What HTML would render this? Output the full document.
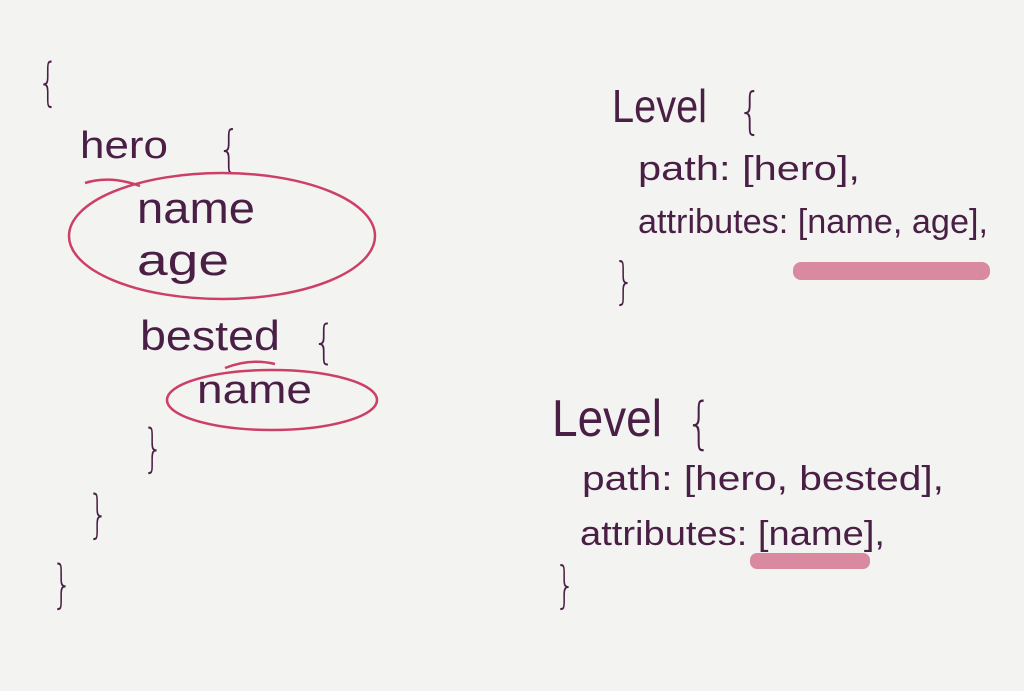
<!DOCTYPE html>
<html><head><meta charset="utf-8"><style>
html,body{margin:0;padding:0;background:#f3f3f1;}
svg{display:block}
text{font-family:"Liberation Sans","DejaVu Sans",sans-serif;fill:#4a1f45;}
.b{font-family:"DejaVu Sans",sans-serif;font-weight:300}
</style></head><body>
<svg width="1024" height="691" viewBox="0 0 1024 691" xmlns="http://www.w3.org/2000/svg">
<rect width="1024" height="691" fill="#f3f3f1"/>
<!-- left side -->
<text class="b" x="38" y="100" font-size="52" textLength="20" lengthAdjust="spacingAndGlyphs">{</text>
<text x="80" y="158" font-size="38" textLength="88" lengthAdjust="spacingAndGlyphs">hero</text>
<text class="b" x="218" y="166" font-size="50" textLength="22" lengthAdjust="spacingAndGlyphs">{</text>
<text x="137" y="223" font-size="44" textLength="118" lengthAdjust="spacingAndGlyphs">name</text>
<text x="137" y="275" font-size="44" textLength="92" lengthAdjust="spacingAndGlyphs">age</text>
<ellipse cx="222" cy="236" rx="153" ry="63" fill="none" stroke="#cc3f66" stroke-width="2.5"/>
<path d="M85 183 Q110 175 140 186" fill="none" stroke="#cc3f66" stroke-width="2.5"/>
<text x="140" y="350" font-size="42" textLength="140" lengthAdjust="spacingAndGlyphs">bested</text>
<text class="b" x="313" y="358" font-size="46" textLength="22" lengthAdjust="spacingAndGlyphs">{</text>
<text x="197" y="403" font-size="40" textLength="115" lengthAdjust="spacingAndGlyphs">name</text>
<ellipse cx="272" cy="400" rx="105" ry="30" fill="none" stroke="#cc3f66" stroke-width="2.5"/>
<path d="M225 368 Q250 358 275 364" fill="none" stroke="#cc3f66" stroke-width="2.5"/>
<text class="b" x="143" y="466" font-size="52" textLength="20" lengthAdjust="spacingAndGlyphs">}</text>
<text class="b" x="88" y="532" font-size="52" textLength="20" lengthAdjust="spacingAndGlyphs">}</text>
<text class="b" x="52" y="602" font-size="52" textLength="20" lengthAdjust="spacingAndGlyphs">}</text>
<!-- right top -->
<text x="612" y="122" font-size="46" textLength="95" lengthAdjust="spacingAndGlyphs">Level</text>
<text class="b" x="738" y="128" font-size="50" textLength="24" lengthAdjust="spacingAndGlyphs">{</text>
<rect x="793" y="262" width="197" height="18" rx="8" fill="#d98aa0"/>
<text x="638" y="180" font-size="34" textLength="222" lengthAdjust="spacingAndGlyphs">path: [hero],</text>
<text x="638" y="233" font-size="34" textLength="350" lengthAdjust="spacingAndGlyphs">attributes: [name, age],</text>
<text class="b" x="614" y="298" font-size="50" textLength="20" lengthAdjust="spacingAndGlyphs">}</text>
<!-- right bottom -->
<rect x="750" y="553" width="120" height="16" rx="7" fill="#d98aa0"/>
<text x="552" y="436" font-size="52" textLength="110" lengthAdjust="spacingAndGlyphs">Level</text>
<text class="b" x="686" y="442" font-size="56" textLength="26" lengthAdjust="spacingAndGlyphs">{</text>
<text x="582" y="490" font-size="34" textLength="362" lengthAdjust="spacingAndGlyphs">path: [hero, bested],</text>
<text x="580" y="545" font-size="34" textLength="305" lengthAdjust="spacingAndGlyphs">attributes: [name],</text>
<text class="b" x="555" y="602" font-size="50" textLength="20" lengthAdjust="spacingAndGlyphs">}</text>
</svg>
</body></html>
